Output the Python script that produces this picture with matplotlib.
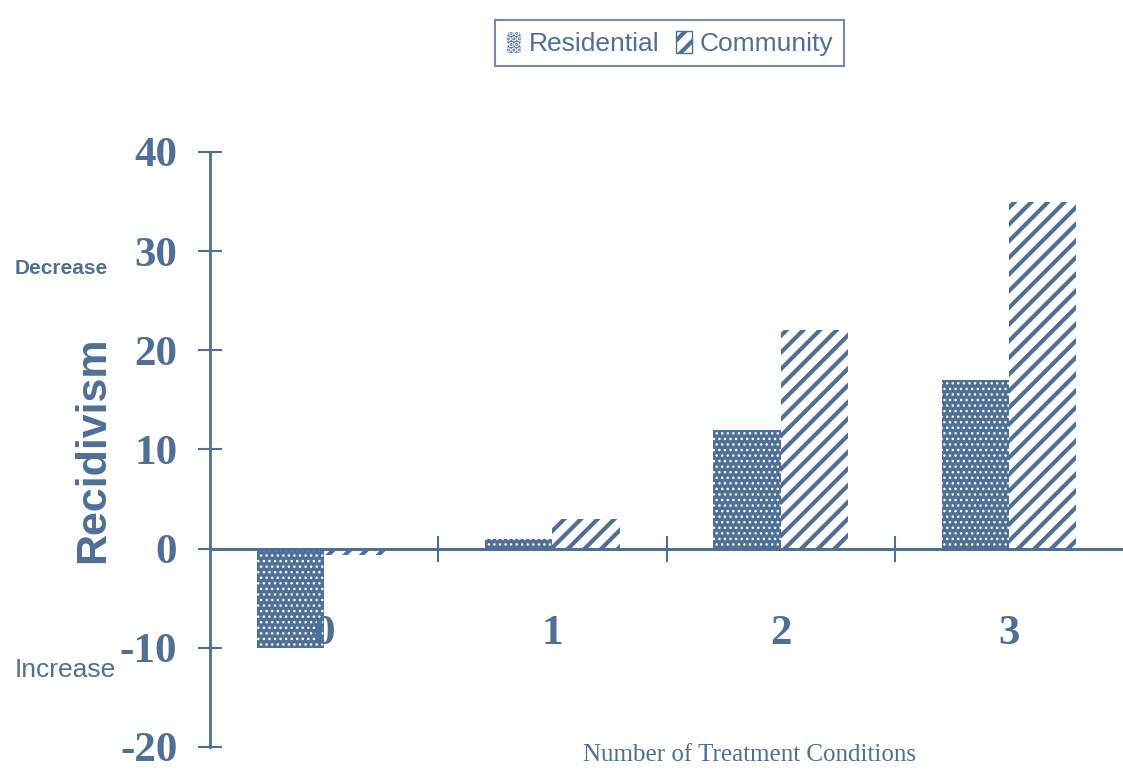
import numpy as np
import matplotlib
matplotlib.use('Agg')
import matplotlib.pyplot as plt
from matplotlib.patches import Patch

# recidivism change by number of treatment conditions
conditions = ['0', '1', '2', '3']
residential = [-10, 1, 12, 17]
community = [-0.6, 3, 22, 35]

blue = '#4f6f96'
serif = ['Liberation Serif', 'DejaVu Serif']
sans = ['Liberation Sans', 'DejaVu Sans']
plt.rcParams['axes.unicode_minus'] = False

fig = plt.figure(figsize=(11.23, 7.72), dpi=100)
ax = fig.add_axes([0.187, 0.0324, 0.813, 0.7708])

x = np.arange(len(conditions))
w = 0.295

plt.rcParams['hatch.linewidth'] = 1.0
res_bars = ax.bar(x - w / 2, residential, w, color=blue, edgecolor='white',
                  hatch='...', linewidth=0, zorder=2)
plt.rcParams['hatch.linewidth'] = 3.0
com_bars = ax.bar(x + w / 2, community, w, color='white', edgecolor=blue,
                  hatch='//', linewidth=0, zorder=2)

ax.set_xlim(-0.5, 3.5)
ax.set_ylim(-20, 40)

# zero line with tick marks between groups
ax.axhline(0, color=blue, lw=2.2, zorder=3)
for b in [0.5, 1.5, 2.5]:
    ax.plot([b, b], [-1.2, 1.2], color=blue, lw=1.5, zorder=3)

for s in ['top', 'right', 'bottom']:
    ax.spines[s].set_visible(False)
ax.spines['left'].set_color(blue)
ax.spines['left'].set_linewidth(2)
ax.set_xticks([])
ax.set_yticks(np.arange(-20, 41, 10))
ax.tick_params(axis='y', direction='inout', length=17, width=1.5, color=blue,
               labelcolor=blue, pad=15)
for lab in ax.get_yticklabels():
    lab.set_fontfamily(serif)
    lab.set_fontsize(31)
    lab.set_fontweight('bold')

# category numbers under the zero line
for xi, c in zip(x, conditions):
    ax.text(xi, -8.6, c, ha='center', va='center', fontsize=31,
            color=blue, family=serif, fontweight='bold', zorder=4)

fig.text(0.083, 0.418, 'Recidivism', rotation=90, ha='center', va='center',
         fontsize=31, color=blue, family=sans, fontweight='bold')
fig.text(0.013, 0.652, 'Decrease', ha='left', va='center', fontsize=15,
         color=blue, family=sans, fontweight='bold')
fig.text(0.013, 0.132, 'Increase', ha='left', va='center', fontsize=19,
         color=blue, family=sans)
fig.text(0.667, 0.022, 'Number of Treatment Conditions', ha='center',
         va='center', fontsize=18, color=blue, family=serif)

handles = [Patch(facecolor=blue, edgecolor='white', hatch='...'),
           Patch(facecolor='white', edgecolor=blue, hatch='//')]
leg = fig.legend(handles, ['Residential', 'Community'], loc='center',
                 bbox_to_anchor=(0.596, 0.944), ncol=2, frameon=True,
                 fancybox=False, fontsize=19, handlelength=0.6,
                 handleheight=0.9, handletextpad=0.3, columnspacing=0.6,
                 borderpad=0.4)
leg.get_frame().set_edgecolor(blue)
leg.get_frame().set_linewidth(1.5)
for t in leg.get_texts():
    t.set_color(blue)
    t.set_fontfamily(sans)

fig.savefig('out.png', dpi=100)
